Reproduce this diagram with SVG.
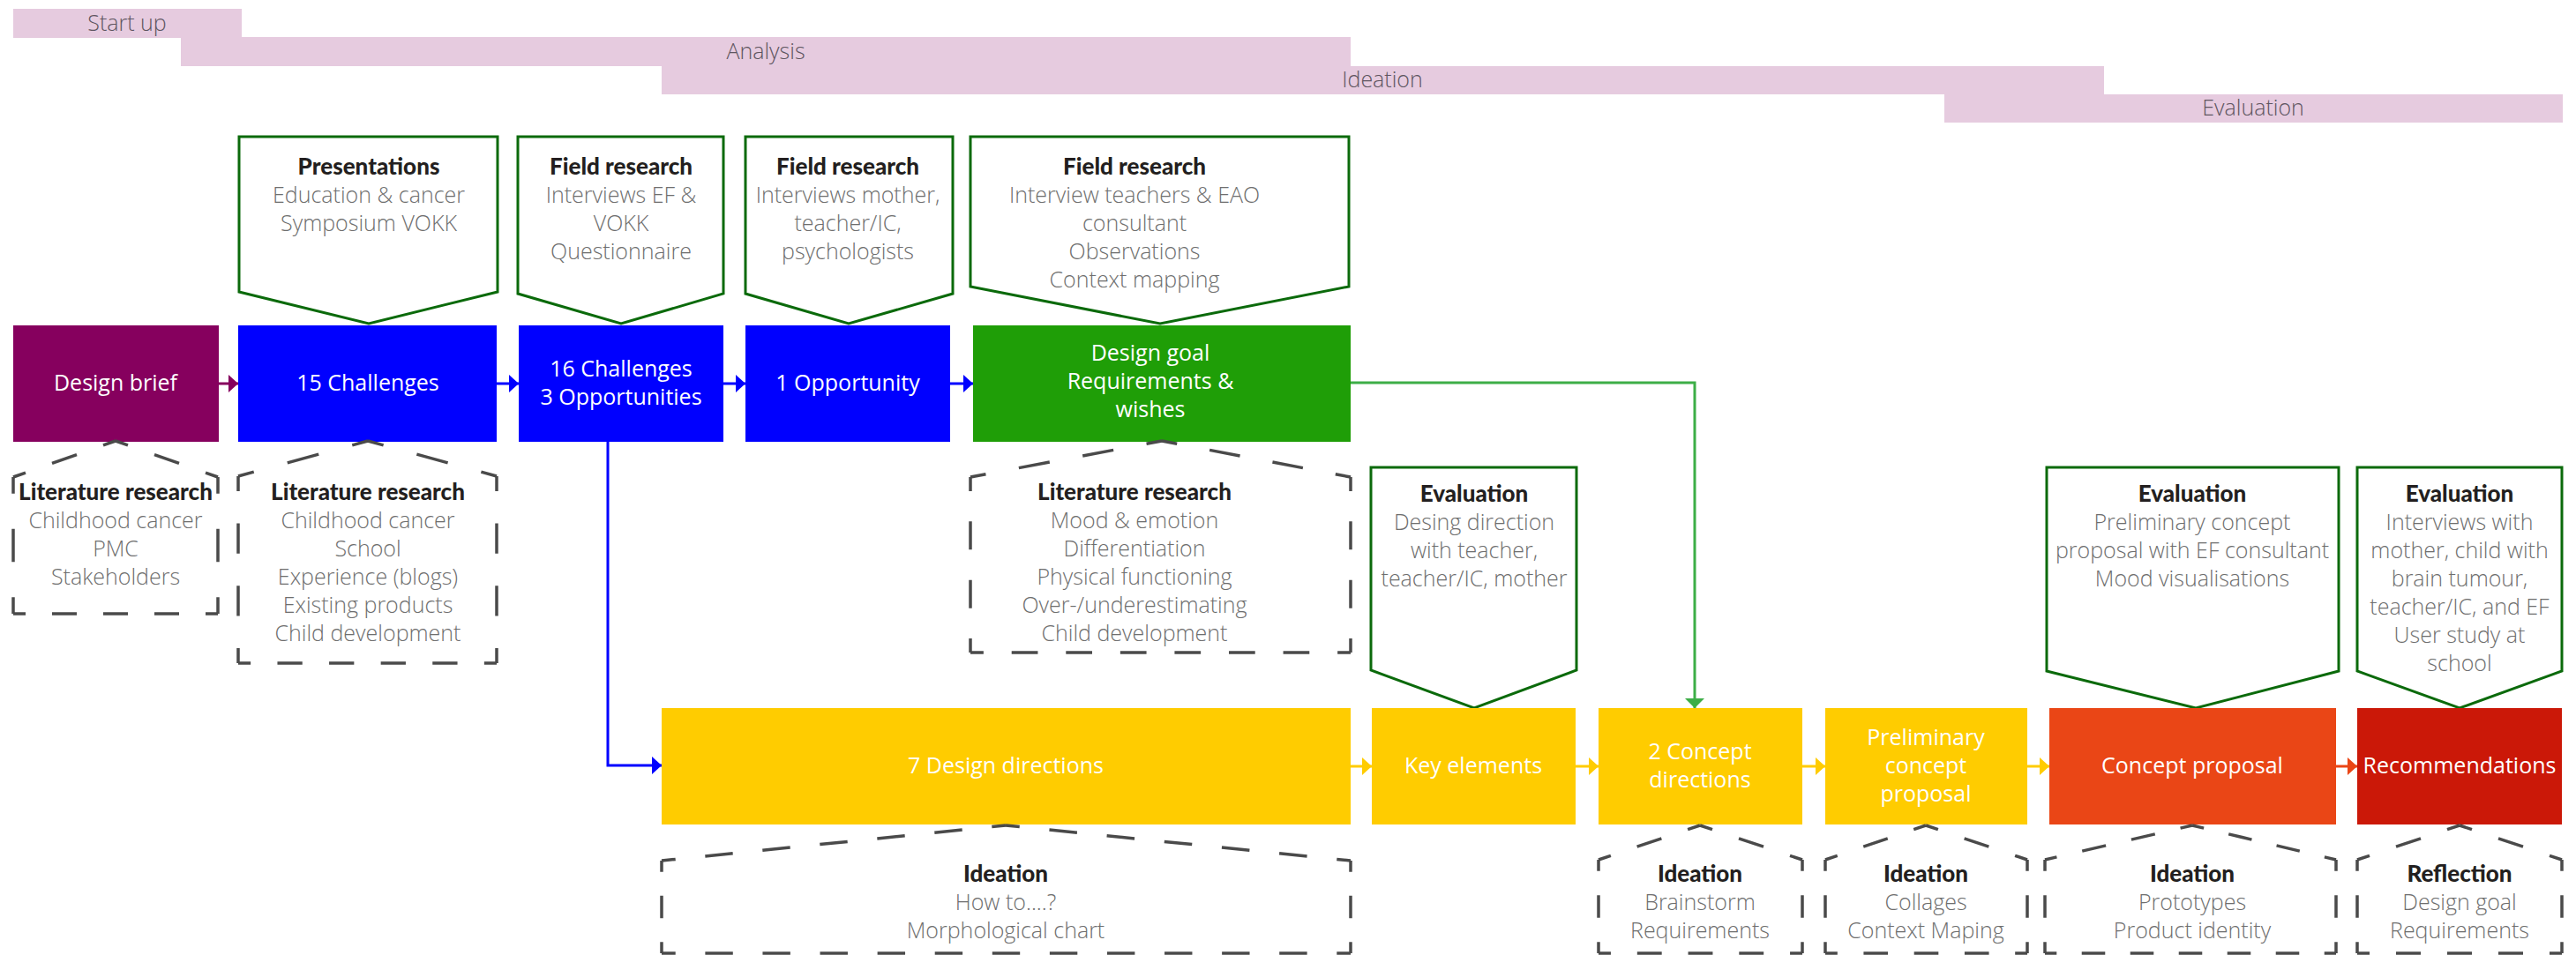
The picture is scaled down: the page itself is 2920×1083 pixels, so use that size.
<svg xmlns="http://www.w3.org/2000/svg" width="2920" height="1083" viewBox="0 0 2920 1083">
<style>
.bg{fill:#ffffff}
.phase rect{fill:#E6CBDF}
.phase text{font-family:"Open Sans","Liberation Sans",sans-serif;font-weight:300;font-size:25px;fill:#5E5560;text-anchor:middle}
.callout polygon{fill:#ffffff;stroke:#0B6A0B;stroke-width:3;stroke-linejoin:miter}
.title{font-family:Lato,"Liberation Sans",sans-serif;font-weight:900;font-size:26px;fill:#231F20;text-anchor:middle}
.body{font-family:"Open Sans","Liberation Sans",sans-serif;font-weight:300;font-size:25px;fill:#6E6E6E;text-anchor:middle}
.box text{font-family:"Open Sans","Liberation Sans",sans-serif;font-weight:400;font-size:25px;fill:#ffffff;text-anchor:middle}
.dash{stroke:#4A4A4A;stroke-width:3.5;fill:none;stroke-dasharray:28 30;stroke-dashoffset:14}
.conn{fill:none;stroke-width:3}
</style>
<defs>
<marker id="ah-purple" markerUnits="userSpaceOnUse" markerWidth="12" markerHeight="20" refX="11" refY="10" orient="auto" overflow="visible"><path d="M0,0 L11,10 L0,20 z" fill="#86005E"/></marker>
<marker id="ah-blue" markerUnits="userSpaceOnUse" markerWidth="12" markerHeight="20" refX="11" refY="10" orient="auto" overflow="visible"><path d="M0,0 L11,10 L0,20 z" fill="#0000FF"/></marker>
<marker id="ah-yellow" markerUnits="userSpaceOnUse" markerWidth="12" markerHeight="20" refX="11" refY="10" orient="auto" overflow="visible"><path d="M0,0 L11,10 L0,20 z" fill="#FFCC00"/></marker>
<marker id="ah-orange" markerUnits="userSpaceOnUse" markerWidth="12" markerHeight="20" refX="11" refY="10" orient="auto" overflow="visible"><path d="M0,0 L11,10 L0,20 z" fill="#EA4616"/></marker>
<marker id="ah-green" markerUnits="userSpaceOnUse" markerWidth="12" markerHeight="22" refX="11" refY="11" orient="auto" overflow="visible"><path d="M0,0 L11,11 L0,22 z" fill="#3DAE47"/></marker>
</defs>
<rect class="bg" x="0" y="0" width="2920" height="1083"/>

<g id="phases">
<g id="phase-startup" class="phase"><rect x="15" y="10" width="259" height="33"/><text x="144" y="35">Start up</text></g>
<g id="phase-analysis" class="phase"><rect x="205" y="42" width="1326" height="33"/><text x="868" y="67">Analysis</text></g>
<g id="phase-ideation" class="phase"><rect x="750" y="75" width="1635" height="32"/><text x="1567" y="99">Ideation</text></g>
<g id="phase-evaluation" class="phase"><rect x="2204" y="107" width="701" height="32"/><text x="2554" y="131">Evaluation</text></g>
</g>

<g id="connectors">
<path class="conn" d="M248,435 H270" stroke="#86005E" marker-end="url(#ah-purple)"/>
<path class="conn" d="M563,435 H588" stroke="#0000FF" marker-end="url(#ah-blue)"/>
<path class="conn" d="M820,435 H845" stroke="#0000FF" marker-end="url(#ah-blue)"/>
<path class="conn" d="M1077,435 H1103" stroke="#0000FF" marker-end="url(#ah-blue)"/>
<path class="conn" d="M689,501 V868 H750" stroke="#0000FF" marker-end="url(#ah-blue)"/>
<path class="conn" d="M1531,434 H1921 V803" stroke="#3DAE47" stroke-width="2.5" marker-end="url(#ah-green)"/>
<path class="conn" d="M1531,869 H1555" stroke="#FFCC00" marker-end="url(#ah-yellow)"/>
<path class="conn" d="M1786,869 H1812" stroke="#FFCC00" marker-end="url(#ah-yellow)"/>
<path class="conn" d="M2043,869 H2069" stroke="#FFCC00" marker-end="url(#ah-yellow)"/>
<path class="conn" d="M2298,869 H2323" stroke="#FFCC00" marker-end="url(#ah-yellow)"/>
<path class="conn" d="M2648,869 H2672" stroke="#EA4616" marker-end="url(#ah-orange)"/>
</g>

<!-- top callouts -->
<g id="callout-presentations" class="callout">
<polygon points="271,155 564,155 564,331 418,367 271,331"/>
<text class="title" x="418" y="198">Presentations</text>
<text class="body" x="418" y="230">Education &amp; cancer</text>
<text class="body" x="418" y="262">Symposium VOKK</text>
</g>
<g id="callout-field1" class="callout">
<polygon points="587,155 820,155 820,333 704,367 587,333"/>
<text class="title" x="704" y="198">Field research</text>
<text class="body" x="704" y="230">Interviews EF &amp;</text>
<text class="body" x="704" y="262">VOKK</text>
<text class="body" x="704" y="294">Questionnaire</text>
</g>
<g id="callout-field2" class="callout">
<polygon points="845,155 1080,155 1080,333 962,367 845,333"/>
<text class="title" x="961" y="198">Field research</text>
<text class="body" x="961" y="230">Interviews mother,</text>
<text class="body" x="961" y="262">teacher/IC,</text>
<text class="body" x="961" y="294">psychologists</text>
</g>
<g id="callout-field3" class="callout">
<polygon points="1100,155 1529,155 1529,325 1315,367 1100,325"/>
<text class="title" x="1286" y="198">Field research</text>
<text class="body" x="1286" y="230">Interview teachers &amp; EAO</text>
<text class="body" x="1286" y="262">consultant</text>
<text class="body" x="1286" y="294">Observations</text>
<text class="body" x="1286" y="326">Context mapping</text>
</g>

<!-- bottom callouts -->
<g id="callout-eval1" class="callout">
<polygon points="1554,530 1787,530 1787,760 1671,803 1554,760"/>
<text class="title" x="1671" y="569">Evaluation</text>
<text class="body" x="1671" y="601">Desing direction</text>
<text class="body" x="1671" y="633">with teacher,</text>
<text class="body" x="1671" y="665">teacher/IC, mother</text>
</g>
<g id="callout-eval2" class="callout">
<polygon points="2320,530 2651,530 2651,761 2489,803 2320,761"/>
<text class="title" x="2485" y="569">Evaluation</text>
<text class="body" x="2485" y="601">Preliminary concept</text>
<text class="body" x="2485" y="633">proposal with EF consultant</text>
<text class="body" x="2485" y="665">Mood visualisations</text>
</g>
<g id="callout-eval3" class="callout">
<polygon points="2672,530 2904,530 2904,761 2788,803 2672,761"/>
<text class="title" x="2788" y="569">Evaluation</text>
<text class="body" x="2788" y="601">Interviews with</text>
<text class="body" x="2788" y="633">mother, child with</text>
<text class="body" x="2788" y="665">brain tumour,</text>
<text class="body" x="2788" y="697">teacher/IC, and EF</text>
<text class="body" x="2788" y="729">User study at</text>
<text class="body" x="2788" y="761">school</text>
</g>

<!-- main boxes -->
<g id="node-design-brief" class="box"><rect x="15" y="369" width="233" height="132" fill="#86005E"/><text x="131" y="443">Design brief</text></g>
<g id="node-15-challenges" class="box"><rect x="270" y="369" width="293" height="132" fill="#0000FF"/><text x="417" y="443">15 Challenges</text></g>
<g id="node-16-challenges" class="box"><rect x="588" y="369" width="232" height="132" fill="#0000FF"/><text x="704" y="427">16 Challenges</text><text x="704" y="459">3 Opportunities</text></g>
<g id="node-1-opportunity" class="box"><rect x="845" y="369" width="232" height="132" fill="#0000FF"/><text x="961" y="443">1 Opportunity</text></g>
<g id="node-design-goal" class="box"><rect x="1103" y="369" width="428" height="132" fill="#1F9E07"/><text x="1304" y="409">Design goal</text><text x="1304" y="441">Requirements &amp;</text><text x="1304" y="473">wishes</text></g>

<g id="node-7-design-directions" class="box"><rect x="750" y="803" width="781" height="132" fill="#FFCC00"/><text x="1140" y="877">7 Design directions</text></g>
<g id="node-key-elements" class="box"><rect x="1555" y="803" width="231" height="132" fill="#FFCC00"/><text x="1670" y="877">Key elements</text></g>
<g id="node-2-concept-directions" class="box"><rect x="1812" y="803" width="231" height="132" fill="#FFCC00"/><text x="1927" y="861">2 Concept</text><text x="1927" y="893">directions</text></g>
<g id="node-preliminary" class="box"><rect x="2069" y="803" width="229" height="132" fill="#FFCC00"/><text x="2183" y="845">Preliminary</text><text x="2183" y="877">concept</text><text x="2183" y="909">proposal</text></g>
<g id="node-concept-proposal" class="box"><rect x="2323" y="803" width="325" height="132" fill="#EA4616"/><text x="2485" y="877">Concept proposal</text></g>
<g id="node-recommendations" class="box"><rect x="2672" y="803" width="232" height="132" fill="#CB1808"/><text x="2788" y="877">Recommendations</text></g>

<!-- dashed houses -->
<g id="lit-research-1">
<line class="dash" x1="15" y1="541" x2="131" y2="500" pathLength="116"/>
<line class="dash" x1="131" y1="500" x2="247" y2="541" pathLength="116"/>
<line class="dash" x1="247" y1="541" x2="247" y2="696" pathLength="116"/>
<line class="dash" x1="247" y1="696" x2="15" y2="696" pathLength="232"/>
<line class="dash" x1="15" y1="696" x2="15" y2="541" pathLength="116"/>
<text class="title" x="131" y="567">Literature research</text>
<text class="body" x="131" y="599">Childhood cancer</text>
<text class="body" x="131" y="631">PMC</text>
<text class="body" x="131" y="663">Stakeholders</text>
</g>
<g id="lit-research-2">
<line class="dash" x1="270" y1="540" x2="417" y2="500" pathLength="116"/>
<line class="dash" x1="417" y1="500" x2="563" y2="540" pathLength="116"/>
<line class="dash" x1="563" y1="540" x2="563" y2="752" pathLength="174"/>
<line class="dash" x1="563" y1="752" x2="270" y2="752" pathLength="290"/>
<line class="dash" x1="270" y1="752" x2="270" y2="540" pathLength="174"/>
<text class="title" x="417" y="567">Literature research</text>
<text class="body" x="417" y="599">Childhood cancer</text>
<text class="body" x="417" y="631">School</text>
<text class="body" x="417" y="663">Experience (blogs)</text>
<text class="body" x="417" y="695">Existing products</text>
<text class="body" x="417" y="727">Child development</text>
</g>
<g id="lit-research-3">
<line class="dash" x1="1100" y1="541" x2="1317" y2="500" pathLength="174"/>
<line class="dash" x1="1317" y1="500" x2="1531" y2="541" pathLength="174"/>
<line class="dash" x1="1531" y1="541" x2="1531" y2="740" pathLength="174"/>
<line class="dash" x1="1531" y1="740" x2="1100" y2="740" pathLength="406"/>
<line class="dash" x1="1100" y1="740" x2="1100" y2="541" pathLength="174"/>
<text class="title" x="1286" y="567">Literature research</text>
<text class="body" x="1286" y="599">Mood &amp; emotion</text>
<text class="body" x="1286" y="631">Differentiation</text>
<text class="body" x="1286" y="663">Physical functioning</text>
<text class="body" x="1286" y="695">Over-/underestimating</text>
<text class="body" x="1286" y="727">Child development</text>
</g>
<g id="ideation-1">
<line class="dash" x1="750" y1="976" x2="1140" y2="936" pathLength="348"/>
<line class="dash" x1="1140" y1="936" x2="1531" y2="976" pathLength="348"/>
<line class="dash" x1="1531" y1="976" x2="1531" y2="1081" pathLength="116"/>
<line class="dash" x1="1531" y1="1081" x2="750" y2="1081" pathLength="696"/>
<line class="dash" x1="750" y1="1081" x2="750" y2="976" pathLength="116"/>
<text class="title" x="1140" y="1000">Ideation</text>
<text class="body" x="1140" y="1032">How to....?</text>
<text class="body" x="1140" y="1064">Morphological chart</text>
</g>
<g id="ideation-2">
<line class="dash" x1="1812" y1="975" x2="1927" y2="936" pathLength="116"/>
<line class="dash" x1="1927" y1="936" x2="2043" y2="975" pathLength="116"/>
<line class="dash" x1="2043" y1="975" x2="2043" y2="1081" pathLength="116"/>
<line class="dash" x1="2043" y1="1081" x2="1812" y2="1081" pathLength="232"/>
<line class="dash" x1="1812" y1="1081" x2="1812" y2="975" pathLength="116"/>
<text class="title" x="1927" y="1000">Ideation</text>
<text class="body" x="1927" y="1032">Brainstorm</text>
<text class="body" x="1927" y="1064">Requirements</text>
</g>
<g id="ideation-3">
<line class="dash" x1="2069" y1="975" x2="2183" y2="936" pathLength="116"/>
<line class="dash" x1="2183" y1="936" x2="2298" y2="975" pathLength="116"/>
<line class="dash" x1="2298" y1="975" x2="2298" y2="1081" pathLength="116"/>
<line class="dash" x1="2298" y1="1081" x2="2069" y2="1081" pathLength="232"/>
<line class="dash" x1="2069" y1="1081" x2="2069" y2="975" pathLength="116"/>
<text class="title" x="2183" y="1000">Ideation</text>
<text class="body" x="2183" y="1032">Collages</text>
<text class="body" x="2183" y="1064">Context Maping</text>
</g>
<g id="ideation-4">
<line class="dash" x1="2318" y1="975" x2="2485" y2="936" pathLength="174"/>
<line class="dash" x1="2485" y1="936" x2="2648" y2="975" pathLength="174"/>
<line class="dash" x1="2648" y1="975" x2="2648" y2="1081" pathLength="116"/>
<line class="dash" x1="2648" y1="1081" x2="2318" y2="1081" pathLength="348"/>
<line class="dash" x1="2318" y1="1081" x2="2318" y2="975" pathLength="116"/>
<text class="title" x="2485" y="1000">Ideation</text>
<text class="body" x="2485" y="1032">Prototypes</text>
<text class="body" x="2485" y="1064">Product identity</text>
</g>
<g id="reflection">
<line class="dash" x1="2672" y1="975" x2="2788" y2="936" pathLength="116"/>
<line class="dash" x1="2788" y1="936" x2="2904" y2="975" pathLength="116"/>
<line class="dash" x1="2904" y1="975" x2="2904" y2="1081" pathLength="116"/>
<line class="dash" x1="2904" y1="1081" x2="2672" y2="1081" pathLength="232"/>
<line class="dash" x1="2672" y1="1081" x2="2672" y2="975" pathLength="116"/>
<text class="title" x="2788" y="1000">Reflection</text>
<text class="body" x="2788" y="1032">Design goal</text>
<text class="body" x="2788" y="1064">Requirements</text>
</g>
</svg>
